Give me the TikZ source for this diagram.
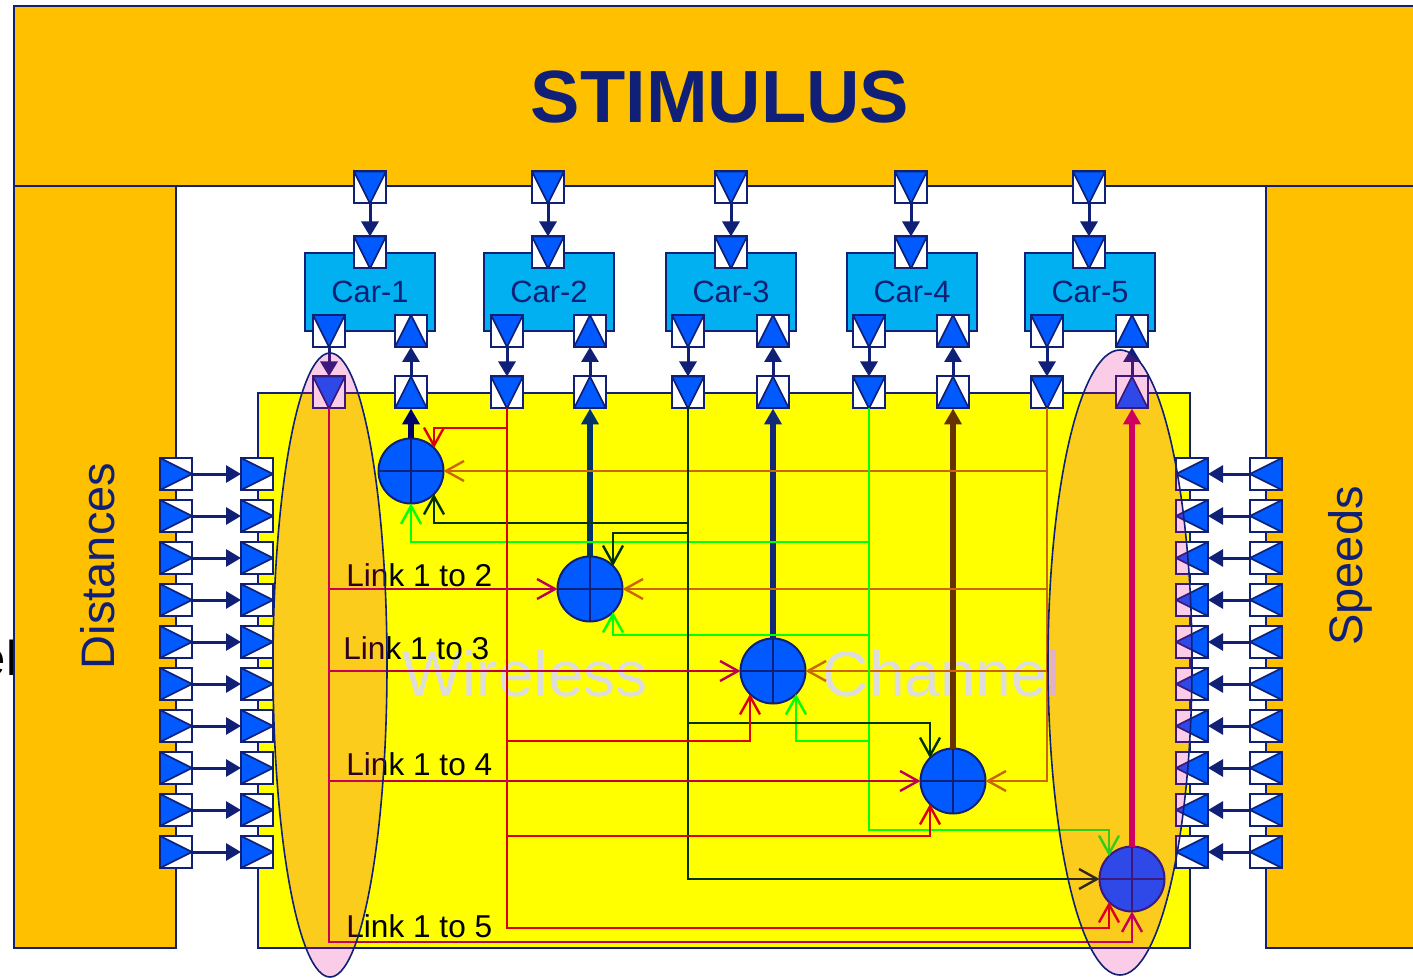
\documentclass[tikz,border=0pt]{standalone}
\usepackage{fontspec}
\setmainfont{Liberation Sans}
\usetikzlibrary{arrows.meta}
\definecolor{navy}{RGB}{16,32,118}
\definecolor{stim}{RGB}{255,192,0}
\definecolor{yel}{RGB}{255,255,0}
\definecolor{pblue}{RGB}{0,90,255}
\definecolor{carblue}{RGB}{0,176,240}
\definecolor{cA}{RGB}{190,0,80}
\definecolor{cB}{RGB}{220,0,0}
\definecolor{cC}{RGB}{0,51,0}
\definecolor{cD}{RGB}{0,255,0}
\definecolor{cE}{RGB}{204,102,0}
\definecolor{o1}{RGB}{0,0,102}
\definecolor{o2}{RGB}{0,51,102}
\definecolor{o3}{RGB}{20,40,120}
\definecolor{o4}{RGB}{102,51,0}
\definecolor{o5}{RGB}{200,0,85}
\definecolor{wm}{RGB}{221,221,221}
\begin{document}
\begin{tikzpicture}[x=0.5pt,y=-0.5pt,
  port/.style={draw=navy,fill=white,line width=1pt,minimum size=16pt,inner sep=0pt,outer sep=0pt},
  pdown/.style={port,path picture={\filldraw[fill=pblue,draw=navy,line width=0.8pt] (path picture bounding box.north west) -- (path picture bounding box.north east) -- (path picture bounding box.south) -- cycle;}},
  pup/.style={port,path picture={\filldraw[fill=pblue,draw=navy,line width=0.8pt] (path picture bounding box.south west) -- (path picture bounding box.south east) -- (path picture bounding box.north) -- cycle;}},
  pright/.style={port,path picture={\filldraw[fill=pblue,draw=navy,line width=0.8pt] (path picture bounding box.north west) -- (path picture bounding box.south west) -- (path picture bounding box.east) -- cycle;}},
  pleft/.style={port,path picture={\filldraw[fill=pblue,draw=navy,line width=0.8pt] (path picture bounding box.north east) -- (path picture bounding box.south east) -- (path picture bounding box.west) -- cycle;}},
  pconn/.style={draw=navy,line width=1.5pt,-{Triangle[length=7.5pt,width=8.5pt]}},
  thinl/.style={line width=1.2pt,-{Straight Barb[length=9pt,width=10pt]}},
  lA/.style={thinl,draw=cA},
  lB/.style={thinl,draw=cB},
  lC/.style={thinl,draw=cC},
  lD/.style={thinl,draw=cD},
  lE/.style={thinl,draw=cE},
  outl/.style={line width=2.6pt,-{Triangle[length=8pt,width=8.5pt]}},
  adder/.style={circle,draw=navy,fill=pblue,line width=1pt,minimum size=32.5pt,inner sep=0pt,outer sep=0pt,
    path picture={\draw[navy,line width=0.8pt] (path picture bounding box.north) -- (path picture bounding box.south) (path picture bounding box.west) -- (path picture bounding box.east);}},
  carbox/.style={draw=navy,fill=carblue,line width=1pt,minimum width=65pt,minimum height=39pt,inner sep=0pt,outer sep=0pt,text=navy,font=\fontsize{15.4}{17}\selectfont},
  linklab/.style={anchor=base west,inner sep=0pt,font=\fontsize{15.8}{18}\selectfont,text=black},
  wmark/.style={anchor=base,inner sep=0pt,font=\fontsize{32}{36}\selectfont,text=wm},
  sidelab/.style={rotate=90,inner sep=0pt,text=navy,font=\fontsize{23.5}{26}\selectfont},
  box/.style={fill=stim,draw=navy,line width=0.8pt}
]
\useasboundingbox (0,0) rectangle (1413,978);
\clip (0,0) rectangle (1413,978);
\fill[white] (0,0) rectangle (1413,978);

% cut-off text at the left edge
\node[anchor=base east,inner sep=0pt,font=\fontsize{24.5}{28}\selectfont] (elfrag) at (17.5,675) {el};

% frame blocks
\draw[box] (14,186) rectangle (176,948);
\draw[box] (1266,186) rectangle (1440,948);
\draw[box] (14,6) rectangle (1440,186);
\draw[fill=yel,draw=navy,line width=0.8pt] (258,393) rectangle (1190,948);

\node[inner sep=0pt,text=navy,font=\fontsize{37}{40}\selectfont\bfseries] (stimtxt) at (720,97) {STIMULUS};
\node[sidelab] (dist) at (98,566) {Distances};
\node[sidelab] (spd) at (1350,566) {Speeds};

% watermark
\node[wmark] (wm1) at (525,696) {Wireless};
\node[wmark] (wm2) at (942,696) {Channel};

% adders
\node[adder] (A1) at (411,471) {};
\node[adder] (A2) at (590,589) {};
\node[adder] (A3) at (773,671) {};
\node[adder] (A4) at (953,781) {};
\node[adder] (A5) at (1132,879) {};

% cars and ports
\foreach \i/\bx/\tx/\lx/\rx in {1/305/370/329/411, 2/484/548/507/590, 3/666/731/688/773, 4/847/911/869/953, 5/1025/1089/1047/1132} {
  \node[carbox] (C\i) at (\bx+65,292) {Car-\i};
  \node[pdown] (S\i) at (\tx,187.5) {};
  \node[pdown] (T\i) at (\tx,252.5) {};
  \node[pdown] (B\i) at (\lx,331) {};
  \node[pup] (U\i) at (\rx,331) {};
  \node[pdown] (D\i) at (\lx,392.5) {};
  \node[pup] (E\i) at (\rx,392.5) {};
  \draw[pconn] (S\i) -- (T\i);
  \draw[pconn] (B\i) -- (D\i);
  \draw[pconn] (E\i) -- (U\i);
}

% side ports
\foreach \k in {0,...,9} {
  \node[pright] (La\k) at (176,474+42*\k) {};
  \node[pright] (Lb\k) at (257,474+42*\k) {};
  \draw[pconn] (La\k) -- (Lb\k);
  \node[pleft] (Ra\k) at (1266,474+42*\k) {};
  \node[pleft] (Rb\k) at (1192,474+42*\k) {};
  \draw[pconn] (Ra\k) -- (Rb\k);
}

% adder outputs
\draw[outl,draw=o1] (A1.north) -- (E1.south);
\draw[outl,draw=o2] (A2.north) -- (E2.south);
\draw[outl,draw=o3] (A3.north) -- (E3.south);
\draw[outl,draw=o4] (A4.north) -- (E4.south);
\draw[outl,draw=o5] (A5.north) -- (E5.south);

% bend points
\coordinate (k5) at (A5.south |- 0,942);
\coordinate (r1) at (A1.north east |- 0,428);
\coordinate (r3) at (A3.south west |- 0,741);
\coordinate (r4) at (A4.south west |- 0,836);
\coordinate (r5) at (A5.south west |- 0,928);
\coordinate (d1) at (A1.south east |- 0,523);
\coordinate (d2) at (A2.north east |- 0,533);
\coordinate (d4) at (A4.north west |- 0,723);
\coordinate (g1) at (A1.south |- 0,542);
\coordinate (g2) at (A2.south east |- 0,635);
\coordinate (g3) at (A3.south east |- 0,741);
\coordinate (g5) at (A5.north west |- 0,830);

% car 5 (orange)
\draw[lE] (D5.south) |- (A1.east);
\draw[lE] (D5.south) |- (A2.east);
\draw[lE] (D5.south) |- (A3.east);
\draw[lE] (D5.south) |- (A4.east);
% car 4 (green)
\draw[lD] (D4.south) |- (g1) -- (A1.south);
\draw[lD] (D4.south) |- (g2) -- (A2.south east);
\draw[lD] (D4.south) |- (g3) -- (A3.south east);
\draw[lD] (D4.south) |- (g5) -- (A5.north west);
% car 3 (dark green)
\draw[lC] (D3.south) |- (d1) -- (A1.south east);
\draw[lC] (D3.south) |- (d2) -- (A2.north east);
\draw[lC] (D3.south) |- (d4) -- (A4.north west);
\draw[lC] (D3.south) |- (A5.west);
% car 2 (red)
\draw[lB] (D2.south) |- (r1) -- (A1.north east);
\draw[lB] (D2.south) |- (r3) -- (A3.south west);
\draw[lB] (D2.south) |- (r4) -- (A4.south west);
\draw[lB] (D2.south) |- (r5) -- (A5.south west);
% car 1 (crimson)
\draw[lA] (D1.south) |- (A2.west);
\draw[lA] (D1.south) |- (A3.west);
\draw[lA] (D1.south) |- (A4.west);
\draw[lA] (D1.south) |- (k5) -- (A5.south);

% link labels
\node[linklab] (lk2) at (346,586) {Link 1 to 2};
\node[linklab] (lk3) at (343,659) {Link 1 to 3};
\node[linklab] (lk4) at (346,775) {Link 1 to 4};
\node[linklab] (lk5) at (346,937) {Link 1 to 5};

% translucent ellipses
\filldraw[fill=magenta,fill opacity=0.2,draw=navy,line width=0.8pt] (330,665) ellipse [x radius=28.5pt, y radius=156pt];
\filldraw[fill=magenta,fill opacity=0.2,draw=navy,line width=0.8pt] (1120,662.5) ellipse [x radius=36pt, y radius=156.25pt];
\end{tikzpicture}
\end{document}
